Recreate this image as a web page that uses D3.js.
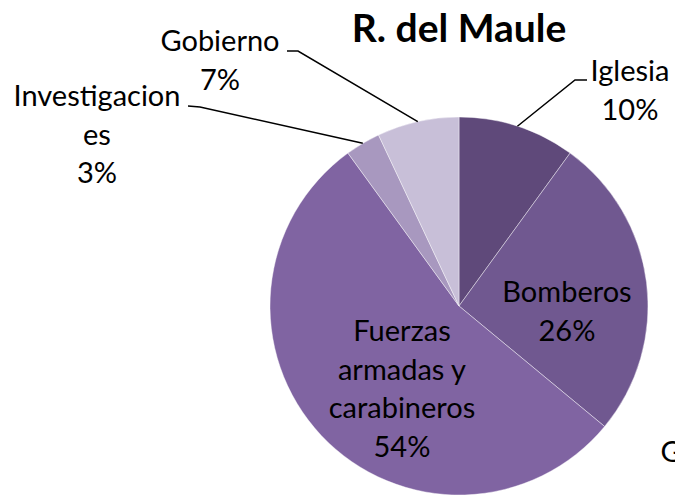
<!DOCTYPE html>
<head>
  <meta charset="utf-8">
  <script src="https://d3js.org/d3.v7.min.js"></script>
  <style>
    body { margin:0; background:#fff; }
    text { font-family: Lato, sans-serif; fill: #000; }
    .title { font-size: 39px; font-weight: 700; }
    .label { font-size: 29px; }
    .leader { fill: none; stroke: #000; stroke-width: 1.5; }
    .slice { stroke: #fff; stroke-width: 0.7; stroke-opacity: 0.6; }
  </style>
</head>

<body>
  <script>
    // data
    var categories = ["Iglesia", "Bomberos", "Gendarmería", "Fuerzas armadas y carabineros", "Investigaciones", "Gobierno"];
    var values = [10, 26, 0, 54, 3, 7];
    var colours = ["#5f497a", "#705890", "#7a5f9a", "#8064a2", "#a898bf", "#c8bfd8"];

    var width = 675, height = 495;
    var cx = 459, cy = 306, radius = 189;

    var svg = d3.select("body").append("svg")
        .attr("width", width)
        .attr("height", height);

    var data = categories.map((c, i) => ({name: c, value: values[i]}));

    var pie = d3.pie().sort(null).value(d => d.value);
    var arc = d3.arc().innerRadius(0).outerRadius(radius);
    var arcs = pie(data);

    var g = svg.append("g")
        .attr("transform", "translate(" + [cx, cy] + ")");

    g.selectAll("path")
      .data(arcs.filter(d => d.data.value > 0))
      .enter().append("path")
        .attr("class", "slice")
        .attr("d", arc)
        .style("fill", d => colours[categories.indexOf(d.data.name)]);

    svg.append("text")
        .attr("class", "title")
        .attr("x", 459)
        .attr("y", 42)
        .attr("text-anchor", "middle")
        .text("R. del Maule");

    // label layout: lines, centre x, first baseline, optional leader bend
    var lineH = 38.5;
    var labelCfg = {
      "Iglesia": {lines: ["Iglesia", "10%"], x: 630, y: 81, bend: [575, 80], end: [587, 80]},
      "Bomberos": {lines: ["Bomberos", "26%"], x: 567, y: 302},
      "Gendarmería": {lines: ["Gendarmería", "0%"], x: 743, y: 462},
      "Fuerzas armadas y carabineros": {lines: ["Fuerzas", "armadas y", "carabineros", "54%"], x: 402, y: 341},
      "Investigaciones": {lines: ["Investigacion", "es", "3%"], x: 97, y: 106, bend: [200, 107], end: [188, 106]},
      "Gobierno": {lines: ["Gobierno", "7%"], x: 220, y: 51, bend: [298, 51], end: [287, 51]}
    };

    var line = d3.line();

    arcs.forEach(d => {
      var cfg = labelCfg[d.data.name];
      if (cfg.bend) {
        var a = (d.startAngle + d.endAngle) / 2;
        var p = [cx + radius * Math.sin(a), cy - radius * Math.cos(a)];
        svg.append("path")
            .attr("class", "leader")
            .attr("d", line([p, cfg.bend, cfg.end]));
      }
      var t = svg.append("text")
          .attr("class", "label")
          .attr("text-anchor", "middle");
      cfg.lines.forEach((s, i) => {
        t.append("tspan")
            .attr("x", cfg.x)
            .attr("y", cfg.y + i * lineH)
            .text(s);
      });
    });
  </script>
</body>
